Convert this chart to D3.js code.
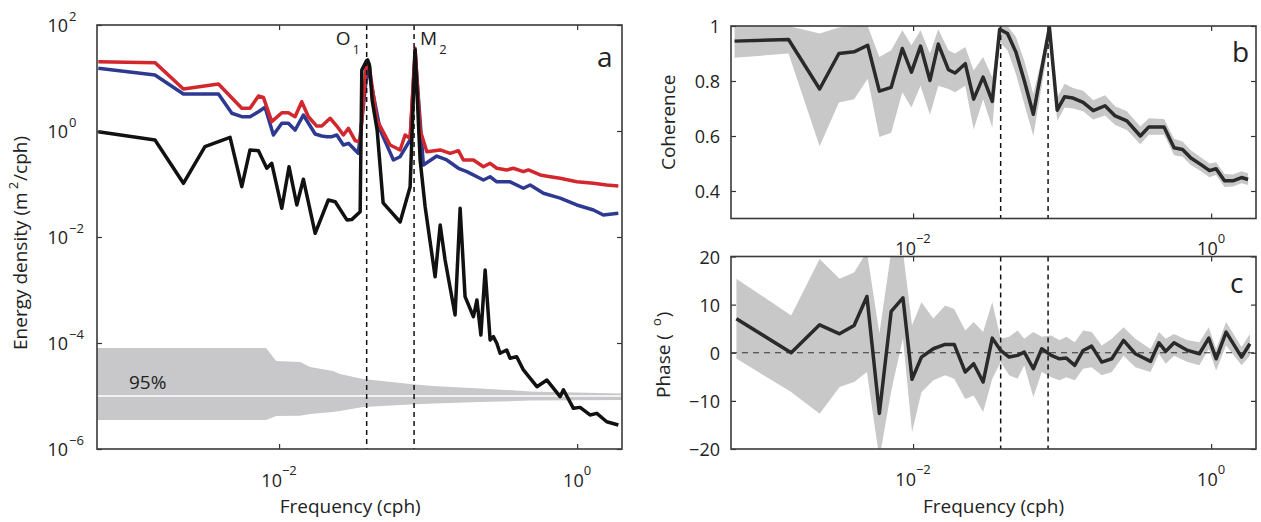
<!DOCTYPE html>
<html><head><meta charset="utf-8">
<script src="https://cdn.jsdelivr.net/npm/d3@7"></script>
<style>body{margin:0;background:#fff} svg{display:block} text{font-family:"Open Sans",sans-serif;fill:#222}</style>
</head><body><svg id="c" width="1261" height="522"></svg>
<script>
// ---------- Panel a : energy density spectra ----------
const redF = [6.12e-4,1.47e-3,2.28e-3,3.92e-3,5.62e-3,6.38e-3,7.27e-3,7.85e-3,8.93e-3,0.01043,0.01154,0.0128,0.01419,0.01573,0.0179,0.01935,0.022,0.0244,0.027,0.0292,0.0324,0.035,0.0385,0.0393,0.04,0.0453,0.0556,0.0649,0.0701,0.0757,0.0818,0.0884,0.098,0.1205,0.1406,0.1597,0.1725,0.2014,0.235,0.2606,0.289,0.337,0.373,0.436,0.471,0.565,0.659,0.769,0.995,1.286,1.58,1.89];
const redE = [20.3,19.5,6.2,7.7,2.68,2.68,4.57,4.32,1.50,2.21,2.21,1.86,3.57,1.86,1.24,1.24,1.74,1.24,0.84,1.12,0.656,0.628,19,20.3,19,1.62,0.545,0.439,0.84,0.727,36.3,1.04,0.407,0.439,0.379,0.425,0.284,0.284,0.212,0.246,0.198,0.184,0.198,0.171,0.184,0.148,0.137,0.128,0.110,0.103,0.0958,0.0916];
const blueF = [6.12e-4,1.47e-3,2.28e-3,3.92e-3,4.82e-3,5.62e-3,6.38e-3,7.27e-3,8.05e-3,9.16e-3,0.01043,0.01154,0.0128,0.01455,0.01746,0.01935,0.0209,0.0226,0.0244,0.027,0.0292,0.034,0.0393,0.0477,0.0585,0.0649,0.0757,0.0818,0.093,0.1143,0.1334,0.1597,0.182,0.235,0.2606,0.289,0.355,0.436,0.484,0.594,0.769,0.995,1.286,1.50,1.89];
const blueE = [15.2,11.4,4.99,4.99,2.16,1.86,1.86,2.31,2.80,0.84,1.40,1.40,1.04,2.0,0.877,0.806,0.782,0.782,0.84,0.545,0.586,0.379,17,1.04,0.284,0.327,0.676,29,0.228,0.337,0.284,0.198,0.171,0.119,0.137,0.110,0.110,0.083,0.0958,0.0668,0.054,0.0402,0.0323,0.026,0.028];
const blackF = [6.12e-4,1.47e-3,2.28e-3,3.18e-3,4.69e-3,5.62e-3,6.38e-3,7.27e-3,8.27e-3,8.93e-3,0.01043,0.01166,0.01315,0.01455,0.01746,0.0214,0.0238,0.0285,0.0307,0.035,0.0359,0.0385,0.0393,0.0405,0.0421,0.0455,0.0499,0.0649,0.0757,0.0818,0.0884,0.0955,0.1114,0.1205,0.130,0.1517,0.164,0.177,0.2014,0.2125,0.226,0.2414,0.2606,0.274,0.289,0.304,0.337,0.355,0.393,0.436,0.537,0.627,0.769,0.809,0.944,1.047,1.22,1.355,1.58,1.89];
const blackE = [0.97,0.676,0.103,0.506,0.76,0.089,0.439,0.425,0.198,0.246,0.0348,0.212,0.0402,0.123,0.01175,0.0499,0.0463,0.021,0.0213,0.030,14.2,21,21.9,17,3.85,1.04,0.0439,0.0192,0.0877,34,0.284,0.0373,0.00178,0.0168,0.00368,3.37e-4,0.0348,7.48e-4,3.13e-4,6.47e-4,1.42e-4,2.38e-3,1.14e-4,1.32e-4,9.87e-5,6.4e-5,7.38e-5,5.14e-5,5.52e-5,3.1e-5,1.5e-5,2.0e-5,9.7e-6,1.31e-5,5.86e-6,6.1e-6,4.39e-6,4.71e-6,3.27e-6,2.84e-6];
// 95% confidence band around 1e-5
const bandF  = [6.0e-4,8.18e-3,9.55e-3,0.01384,0.01615,0.023,0.0256,0.0366,0.0757,0.108,0.2235,0.484,2.0];
const bandHi = [8.05e-5,8.05e-5,4.57e-5,4.38e-5,3.52e-5,2.96e-5,2.6e-5,2.09e-5,1.68e-5,1.54e-5,1.39e-5,1.22e-5,1.11e-5];
const bandLo = [3.52e-6,3.52e-6,4.2e-6,4.25e-6,4.57e-6,4.99e-6,5.21e-6,6.2e-6,6.91e-6,7.2e-6,7.7e-6,8.2e-6,8.4e-6];
const bandCenter = 1e-5;

// ---------- Panel b : coherence ----------
const cohF = [6.34e-4,1.46e-3,2.36e-3,3.18e-3,4.02e-3,4.96e-3,5.94e-3,7.13e-3,8.47e-3,9.75e-3,0.01122,0.01298,0.01476,0.01725,0.01914,0.02239,0.0255,0.0295,0.034,0.0381,0.043,0.0489,0.0557,0.0641,0.0822,0.0927,0.104,0.1184,0.1384,0.1618,0.194,0.227,0.272,0.335,0.382,0.483,0.564,0.643,0.731,0.855,0.975,1.08,1.23,1.40,1.60,1.77];
const cohV = [0.945,0.951,0.771,0.900,0.906,0.930,0.763,0.777,0.918,0.832,0.927,0.802,0.934,0.841,0.829,0.863,0.734,0.814,0.726,0.988,0.973,0.906,0.802,0.679,0.995,0.694,0.743,0.738,0.722,0.692,0.710,0.673,0.655,0.600,0.633,0.633,0.557,0.551,0.520,0.496,0.474,0.481,0.437,0.437,0.449,0.442];
const cohHi = [0.998,1.0,0.973,0.995,1.0,1.0,0.887,0.912,0.985,0.930,0.985,0.900,0.988,0.912,0.900,0.924,0.838,0.887,0.814,1.0,1.0,0.961,0.875,0.753,1.0,0.741,0.790,0.775,0.765,0.730,0.748,0.708,0.690,0.635,0.665,0.662,0.590,0.580,0.548,0.522,0.500,0.505,0.462,0.460,0.472,0.465];
const cohLo = [0.885,0.900,0.563,0.722,0.734,0.808,0.596,0.612,0.759,0.704,0.783,0.677,0.783,0.771,0.759,0.783,0.624,0.734,0.630,0.942,0.912,0.826,0.716,0.600,0.949,0.655,0.704,0.700,0.690,0.660,0.675,0.640,0.622,0.570,0.605,0.605,0.530,0.525,0.495,0.472,0.450,0.458,0.415,0.416,0.428,0.422];

// ---------- Panel c : phase ----------
const phF = [6.52e-4,1.52e-3,2.36e-3,3.21e-3,4.02e-3,4.90e-3,5.94e-3,7.13e-3,8.55e-3,9.84e-3,0.01138,0.01367,0.01641,0.01888,0.02239,0.0255,0.0295,0.034,0.0387,0.0441,0.0502,0.0557,0.0641,0.073,0.0845,0.0961,0.1067,0.1216,0.1384,0.1578,0.1845,0.2155,0.2583,0.310,0.392,0.4465,0.4955,0.564,0.695,0.834,0.964,1.08,1.26,1.60,1.82];
const phV = [7.06,0.0,5.81,3.94,5.67,11.7,-12.6,8.6,11.4,-5.5,-0.9,0.83,1.73,1.73,-4.01,-2.28,-6.09,3.04,0.48,-0.9,-0.55,0.14,-3.32,0.83,-0.55,-1.25,-1.11,-2.63,0.48,1.38,-1.94,-1.25,2.56,-0.21,-1.8,2.08,0.28,2.08,0.48,-0.21,3.04,-1.25,4.29,-0.9,1.87];
const phHi = [15.4,7.75,19.5,15.4,16.7,21,4,21,21,5.7,10.5,7.1,9.8,9.1,4.6,6.4,4.3,10.5,2.9,3.3,4.6,2.9,4.3,3.3,3.6,2.6,3.3,2.2,4.6,4.3,1.5,2.9,5.3,2.9,0.8,4.3,2.9,3.9,2.6,2.2,5.3,0.8,6.4,1.2,3.9];
const phLo = [-1.2,-8.17,-12.7,-7.1,-6.1,-4.0,-22,-8,3,-16.5,-8.2,-5.7,-4.7,-5.4,-9.6,-8.9,-12.3,-5.4,-1.9,-4.7,-5.4,-2.6,-9.2,-4.0,-5.1,-5.7,-5.1,-5.7,-3.3,-3.0,-4.7,-4.0,-0.6,-3.0,-4.0,-0.2,-2.3,-0.6,-1.9,-2.6,0.8,-3.7,1.5,-2.6,-0.6];

// tidal constituents and ticks
const tideF = [0.0387, 0.0805];
const tideNames = [["O","1"],["M","2"]];
const xTickVals = [0.01, 1];
const xTickExp = ["\u22122","0"];
const yAVals = [1e-6,1e-4,1e-2,1,100];
const yAExp = ["\u22126","\u22124","\u22122","0","2"];
const yBVals = [0.4,0.6,0.8,1];
const yBLabels = ["0.4","0.6","0.8","1"];
const yCVals = [-20,-10,0,10,20];
const yCLabels = ["\u221220","\u221210","0","10","20"];

const svg = d3.select("#c");
svg.append("rect").attr("width",1261).attr("height",522).attr("fill","#fff");

const xA = d3.scaleLog().domain([6e-4, 2]).range([97, 622]);
const yA = d3.scaleLog().domain([1e-6, 1e2]).range([449, 25]);
const xB = d3.scaleLog().domain([6e-4, 2]).range([731, 1256]);
const yB = d3.scaleLinear().domain([0.3, 1]).range([218.5, 26]);
const yC = d3.scaleLinear().domain([-20, 20]).range([449, 256.5]);

const defs = svg.append("defs");
function clip(id, x, y) {
  defs.append("clipPath").attr("id", id).append("rect")
    .attr("x", x.range()[0]).attr("y", y.range()[1])
    .attr("width", x.range()[1]-x.range()[0]).attr("height", y.range()[0]-y.range()[1]);
  return svg.append("g").attr("clip-path", `url(#${id})`);
}

function frame(x, y, yt) {
  const [x0,x1] = x.range(), [y0,y1] = y.range();
  const g = svg.append("g");
  const mk = a => a.tickSizeInner(-5).tickSizeOuter(0).tickFormat("");
  g.append("g").attr("transform",`translate(0,${y0})`).call(mk(d3.axisBottom(x).tickValues(xTickVals)));
  g.append("g").attr("transform",`translate(0,${y1})`).call(mk(d3.axisTop(x).tickValues(xTickVals)));
  g.append("g").attr("transform",`translate(${x0},0)`).call(mk(d3.axisLeft(y).tickValues(yt)));
  g.append("g").attr("transform",`translate(${x1},0)`).call(mk(d3.axisRight(y).tickValues(yt)));
  g.selectAll(".domain").remove();
  g.selectAll(".tick line").attr("stroke","#333").attr("stroke-width",1.2);
  g.append("rect").attr("x",x0).attr("y",y1).attr("width",x1-x0).attr("height",y0-y1)
    .attr("fill","none").attr("stroke","#3a3a3a").attr("stroke-width",1.6);
}
function xLabels(x, yb) {
  xTickVals.forEach((v,i) => {
    const t = svg.append("text").attr("x", x(v)).attr("y", yb).attr("text-anchor","middle").attr("font-size",18);
    t.append("tspan").text("10");
    t.append("tspan").attr("dy",-12).attr("font-size",13).text(xTickExp[i]);
  });
}
function tideLines(g, x, y) {
  tideF.forEach(f => g.append("line").attr("x1",x(f)).attr("x2",x(f))
    .attr("y1",y.range()[1]).attr("y2",y.range()[0])
    .attr("stroke","#111").attr("stroke-width",1.5).attr("stroke-dasharray","5,4"));
}

// ===== Panel a =====
const gA = clip("clipA", xA, yA);
const bandData = bandF.map((f,i)=>({f, lo:bandLo[i], hi:bandHi[i]}));
gA.append("path").datum(bandData).attr("fill","#c8c8ca")
  .attr("d", d3.area().x(d=>xA(d.f)).y0(d=>yA(d.lo)).y1(d=>yA(d.hi)));
gA.append("line").attr("x1",xA(bandF[0])).attr("x2",xA(bandF[bandF.length-1]))
  .attr("y1",yA(bandCenter)).attr("y2",yA(bandCenter)).attr("stroke","#f2f2f2").attr("stroke-width",2);
svg.append("text").attr("x",129).attr("y",389).attr("font-size",19).text("95%");
const lineA = d3.line().x(d=>xA(d[0])).y(d=>yA(d[1]));
[[blueF,blueE,"#2e3a92"],[redF,redE,"#d2282d"],[blackF,blackE,"#111"]].forEach(([F,E,c]) => {
  gA.append("path").datum(F.map((f,i)=>[f,E[i]])).attr("fill","none").attr("stroke",c)
    .attr("stroke-width",3.5).attr("stroke-linejoin","round").attr("d",lineA);
});
tideLines(svg, xA, yA);
frame(xA, yA, yAVals);
yAVals.forEach((v,i) => {
  svg.append("text").attr("x",68).attr("y",yA(v)+7).attr("text-anchor","end").attr("font-size",18).text("10");
  svg.append("text").attr("x",69).attr("y",yA(v)-4).attr("font-size",13).text(yAExp[i]);
});
xLabels(xA, 487);
tideNames.forEach((n,i) => {
  const t = svg.append("text").attr("font-size",19);
  if (i===0) t.attr("x", xA(tideF[0])-31).attr("y",45); else t.attr("x", xA(tideF[1])+6).attr("y",45);
  t.append("tspan").text(n[0]);
  t.append("tspan").attr("dy",9).attr("font-size",13).attr("dx",2).text(n[1]);
});
svg.append("text").attr("x",597).attr("y",67).attr("font-size",28).text("a");
svg.append("text").attr("x",xA(0.03)).attr("y",513).attr("text-anchor","middle").attr("font-size",19).text("Frequency (cph)");
{
  const t = svg.append("text").attr("transform","translate(27,350) rotate(-90)").attr("font-size",19);
  t.append("tspan").text("Energy density (m");
  t.append("tspan").attr("dx",3).attr("dy",-9).attr("font-size",13).text("2");
  t.append("tspan").attr("dy",9).attr("dx",1).text("/cph)");
}

// ===== Panel b =====
const gB = clip("clipB", xB, yB);
gB.append("path").datum(cohF.map((f,i)=>({f,lo:cohLo[i],hi:cohHi[i]}))).attr("fill","#c8c8c8")
  .attr("d", d3.area().x(d=>xB(d.f)).y0(d=>yB(d.lo)).y1(d=>yB(d.hi)));
tideLines(gB, xB, yB);
gB.append("path").datum(cohF.map((f,i)=>[f,cohV[i]])).attr("fill","none").attr("stroke","#2a2a2a")
  .attr("stroke-width",3.5).attr("stroke-linejoin","round").attr("d", d3.line().x(d=>xB(d[0])).y(d=>yB(d[1])));
frame(xB, yB, yBVals);
yBVals.forEach((v,i) => svg.append("text").attr("x",720).attr("y",yB(v)+7).attr("text-anchor","end").attr("font-size",18).text(yBLabels[i]));
xLabels(xB, 255);
svg.append("text").attr("x",1232).attr("y",62).attr("font-size",28).text("b");
svg.append("text").attr("transform",`translate(675,${(yB.range()[0]+yB.range()[1])/2}) rotate(-90)`)
  .attr("text-anchor","middle").attr("font-size",19).text("Coherence");

// ===== Panel c =====
const gC = clip("clipC", xB, yC);
gC.append("path").datum(phF.map((f,i)=>({f,lo:phLo[i],hi:phHi[i]}))).attr("fill","#c8c8c8")
  .attr("d", d3.area().x(d=>xB(d.f)).y0(d=>yC(d.lo)).y1(d=>yC(d.hi)));
gC.append("line").attr("x1",xB.range()[0]).attr("x2",xB.range()[1]).attr("y1",yC(0)).attr("y2",yC(0))
  .attr("stroke","#333").attr("stroke-width",1).attr("stroke-dasharray","6,5");
tideLines(gC, xB, yC);
gC.append("path").datum(phF.map((f,i)=>[f,phV[i]])).attr("fill","none").attr("stroke","#2a2a2a")
  .attr("stroke-width",3.5).attr("stroke-linejoin","round").attr("d", d3.line().x(d=>xB(d[0])).y(d=>yC(d[1])));
frame(xB, yC, yCVals);
yCVals.forEach((v,i) => svg.append("text").attr("x",720).attr("y",yC(v)+7).attr("text-anchor","end").attr("font-size",18).text(yCLabels[i]));
xLabels(xB, 486);
svg.append("text").attr("x",1230).attr("y",293).attr("font-size",28).text("c");
svg.append("text").attr("x",(xB.range()[0]+xB.range()[1])/2).attr("y",513).attr("text-anchor","middle").attr("font-size",19).text("Frequency (cph)");
{
  const t = svg.append("text").attr("transform","translate(670,398) rotate(-90)").attr("font-size",19);
  t.append("tspan").text("Phase (");
  t.append("tspan").attr("dx",8).attr("dy",-9).attr("font-size",13).text("o");
  t.append("tspan").attr("dy",9).attr("dx",1).text(")");
}
</script></body></html>
